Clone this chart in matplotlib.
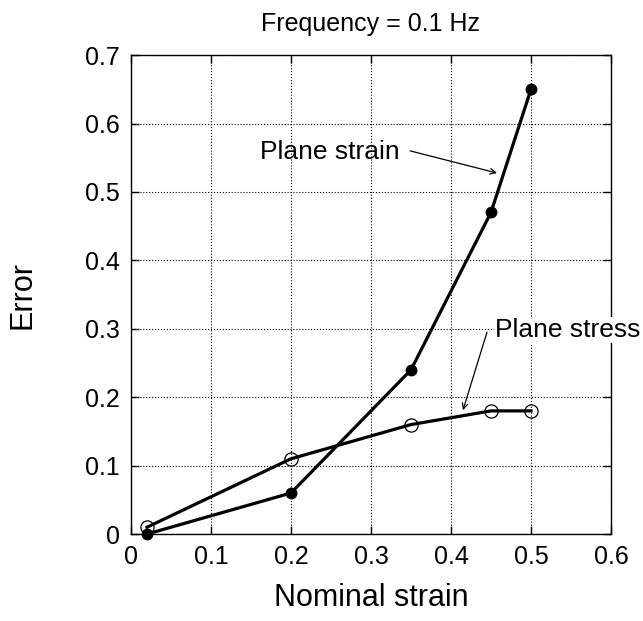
import matplotlib.pyplot as plt

plt.rcParams['font.family'] = ['Liberation Sans', 'DejaVu Sans']

strain = [0.02, 0.2, 0.35, 0.45, 0.5]
err_plane_strain = [0.0, 0.06, 0.24, 0.47, 0.65]
err_plane_stress = [0.01, 0.11, 0.16, 0.18, 0.18]

xticks = [0, 0.1, 0.2, 0.3, 0.4, 0.5, 0.6]
yticks = [0, 0.1, 0.2, 0.3, 0.4, 0.5, 0.6, 0.7]
xticklabels = ['0', '0.1', '0.2', '0.3', '0.4', '0.5', '0.6']
yticklabels = ['0', '0.1', '0.2', '0.3', '0.4', '0.5', '0.6', '0.7']

fig = plt.figure(figsize=(6.43, 6.21), dpi=100)
ax = fig.add_axes([0.2037, 0.140, 0.7465, 0.7713])

ax.plot(strain, err_plane_strain, color='black', lw=2.3, marker='o', ms=7.5,
        mfc='black', mec='black', clip_on=False, zorder=3)
ax.plot(strain, err_plane_stress, color='black', lw=2.3, marker='o', ms=9.5,
        mfc='none', mec='black', mew=0.9, clip_on=False, zorder=3)

ax.set_xlim(0, 0.6)
ax.set_ylim(0, 0.7)
ax.set_xticks(xticks)
ax.set_yticks(yticks)
ax.set_xticklabels(xticklabels)
ax.set_yticklabels(yticklabels)
ax.grid(True, color='black', linestyle=':', linewidth=0.8)
ax.tick_params(direction='in', top=True, right=True, labelsize=18,
               length=6, width=1.0, pad=8)
for s in ax.spines.values():
    s.set_linewidth(1.0)
    s.set_linestyle((0, (1, 1)))

ax.set_xlabel('Nominal strain', fontsize=22, labelpad=10)
ax.set_ylabel('Error', fontsize=22, labelpad=34)
ax.set_title('Frequency = 0.1 Hz', fontsize=18, pad=17)

# annotations
ax.text(0.161, 0.558, 'Plane strain', fontsize=19, va='center', ha='left')
ax.annotate('', xy=(0.4575, 0.5276), xytext=(0.349, 0.560),
            arrowprops=dict(arrowstyle='->', color='black', lw=0.9,
                            shrinkA=0, shrinkB=0))
ax.text(0.455, 0.298, 'Plane stress', fontsize=19, va='center', ha='left',
        clip_on=False, zorder=5,
        bbox=dict(facecolor='white', edgecolor='none', pad=1))
ax.annotate('', xy=(0.415, 0.181), xytext=(0.445, 0.295),
            arrowprops=dict(arrowstyle='->', color='black', lw=0.9,
                            shrinkA=0, shrinkB=0))

fig.savefig('out.png', dpi=100)
